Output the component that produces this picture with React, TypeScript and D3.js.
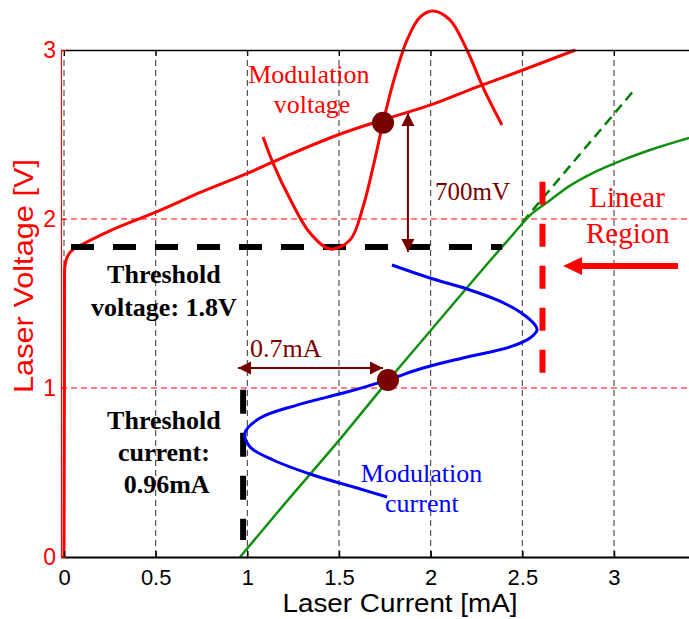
import React, { useEffect, useRef } from 'react';
import * as d3 from 'd3';

const W = 689, H = 619;

// V-I curve of the laser (current mA, voltage V)
const viCurve: [number, number][] = [
  [0, 0], [0.002, 1.0], [0.003, 1.7], [0.01, 1.75], [0.025, 1.79], [0.05, 1.82],
  [0.1, 1.85], [0.25, 1.93], [0.5, 2.04], [0.75, 2.16], [1, 2.27], [1.25, 2.39],
  [1.5, 2.5], [1.75, 2.59], [2, 2.675], [2.25, 2.78], [2.5, 2.88], [2.79, 3.0]
];
// L-I curve (green)
const liCurve: [number, number][] = [
  [0.96, 0], [1.2, 0.31], [1.5, 0.69], [1.75, 1.02], [2, 1.34], [2.25, 1.66],
  [2.45, 1.91], [2.55, 2.03], [2.65, 2.11], [2.75, 2.19], [2.9, 2.28],
  [3.05, 2.35], [3.2, 2.41], [3.41, 2.48]
];
const liLinearExt: [number, number][] = [[2.5, 1.98], [3.1, 2.75]];
// modulation voltage swing
const modVoltage: [number, number][] = [
  [1.086, 2.485], [1.14, 2.331], [1.233, 2.118], [1.342, 1.917], [1.451, 1.822],
  [1.56, 1.876], [1.631, 2.071], [1.686, 2.308], [1.74, 2.568], [1.795, 2.805],
  [1.871, 3.059], [1.942, 3.195], [2.013, 3.231], [2.105, 3.178], [2.198, 3.0],
  [2.285, 2.781], [2.389, 2.556]
];
// modulation current swing
const modCurrent: [number, number][] = [
  [1.789, 1.728], [1.996, 1.651], [2.198, 1.586], [2.362, 1.521], [2.487, 1.45],
  [2.569, 1.373], [2.58, 1.343], [2.542, 1.296], [2.433, 1.243], [2.176, 1.178],
  [1.958, 1.118], [1.762, 1.047], [1.544, 0.976], [1.271, 0.899], [1.069, 0.822],
  [0.987, 0.734], [1.015, 0.651], [1.14, 0.574], [1.358, 0.485], [1.598, 0.408],
  [1.762, 0.355]
];

const xTicks = [0, 0.5, 1, 1.5, 2, 2.5, 3];
const xTickLabels = ['0', '0.5', '1', '1.5', '2', '2.5', '3'];
const yTicks = [0, 1, 2, 3];
const yTickLabels = ['0', '1', '2', '3'];

const opPoints: [number, number][] = [[1.74, 2.57], [1.767, 1.047]];
const thresholdV: [number, number][] = [[0.038, 1.834], [2.39, 1.834]];
const thresholdI: [number, number][] = [[0.977, 0.99], [0.977, 0.1]];
const linearEdge: [number, number][] = [[2.61, 2.22], [2.61, 1.09]];
const swingV: [number, number][] = [[1.876, 1.805], [1.876, 2.627]];
const swingI: [number, number][] = [[1.74, 1.118], [0.949, 1.118]];
const linearArrow: [number, number][] = [[3.349, 1.722], [2.722, 1.722]];

const noteTexts = ['Modulation', 'voltage', '700mV', 'Threshold', 'voltage: 1.8V',
  'Threshold', 'current:', '0.96mA', '0.7mA', 'Modulation', 'current', 'Linear', 'Region'];
const noteAt: [number, number][] = [
  [1.336, 2.805], [1.353, 2.627], [2.024, 2.112], [0.545, 1.621], [0.545, 1.426],
  [0.545, 0.757], [0.545, 0.568], [0.56, 0.379], [1.015, 1.183], [1.95, 0.444],
  [1.952, 0.266], [3.071, 2.071], [3.076, 1.858]
];

function head(tip: number[], from: number[], len: number, half: number) {
  const dx = tip[0] - from[0], dy = tip[1] - from[1];
  const d = Math.hypot(dx, dy), ux = dx / d, uy = dy / d;
  const bx = tip[0] - ux * len, by = tip[1] - uy * len;
  return `M${tip[0]},${tip[1]}L${bx - uy * half},${by + ux * half}L${bx + uy * half},${by - ux * half}Z`;
}

const App = () => {
  const ref = useRef<SVGSVGElement>(null);

  useEffect(() => {
    const svg = d3.select(ref.current);
    svg.selectAll('*').remove();

    const x = d3.scaleLinear().domain([-0.0164, 3.4091]).range([61, 689]);
    const y = d3.scaleLinear().domain([0, 3]).range([557, 50]);
    const serif = 'Liberation Serif, Times New Roman, serif';
    const sans = 'Liberation Sans, Arial, Helvetica, sans-serif';
    const darkRed = '#7a0000';

    // grid
    svg.append('g').selectAll('line').data(xTicks).enter().append('line')
      .attr('x1', d => x(d)).attr('x2', d => x(d)).attr('y1', y(3)).attr('y2', y(0))
      .attr('stroke', '#333').attr('stroke-width', 1).attr('stroke-dasharray', '6,4');
    svg.append('g').selectAll('line').data([1, 2]).enter().append('line')
      .attr('x1', 61).attr('x2', 689).attr('y1', d => y(d)).attr('y2', d => y(d))
      .attr('stroke', '#ff0000').attr('stroke-width', 1).attr('stroke-dasharray', '6,4');

    const line = d3.line<[number, number]>().x(d => x(d[0])).y(d => y(d[1]));

    // green L-I
    svg.append('path').attr('d', line.curve(d3.curveLinear)(liLinearExt))
      .attr('fill', 'none').attr('stroke', '#008000').attr('stroke-width', 2.5)
      .attr('stroke-dasharray', '10,6');
    svg.append('path').attr('d', line.curve(d3.curveMonotoneX)(liCurve))
      .attr('fill', 'none').attr('stroke', '#109010').attr('stroke-width', 2.5);

    // red V-I
    svg.append('path').attr('d', line.curve(d3.curveMonotoneX)(viCurve))
      .attr('fill', 'none').attr('stroke', '#ff0000').attr('stroke-width', 3);

    // threshold lines
    svg.append('path').attr('d', line.curve(d3.curveLinear)(thresholdV))
      .attr('stroke', '#000').attr('stroke-width', 6).attr('stroke-dasharray', '23,19');
    svg.append('path').attr('d', line.curve(d3.curveLinear)(thresholdI))
      .attr('stroke', '#000').attr('stroke-width', 6).attr('stroke-dasharray', '24,19');
    svg.append('path').attr('d', line.curve(d3.curveLinear)(linearEdge))
      .attr('stroke', '#ff0000').attr('stroke-width', 6).attr('stroke-dasharray', '23,19');

    // modulation swings
    svg.append('path').attr('d', line.curve(d3.curveCatmullRom)(modVoltage))
      .attr('fill', 'none').attr('stroke', '#ff0000').attr('stroke-width', 3);
    svg.append('path').attr('d', line.curve(d3.curveCatmullRom)(modCurrent))
      .attr('fill', 'none').attr('stroke', '#0000ff').attr('stroke-width', 3);

    // double arrows
    [swingV, swingI].forEach(seg => {
      const a = [x(seg[0][0]), y(seg[0][1])], b = [x(seg[1][0]), y(seg[1][1])];
      svg.append('line').attr('x1', a[0]).attr('y1', a[1]).attr('x2', b[0]).attr('y2', b[1])
        .attr('stroke', darkRed).attr('stroke-width', 2);
      svg.append('path').attr('d', head(a, b, 13, 6.5)).attr('fill', darkRed);
      svg.append('path').attr('d', head(b, a, 13, 6.5)).attr('fill', darkRed);
    });

    // linear region arrow
    {
      const a = [x(linearArrow[0][0]), y(linearArrow[0][1])];
      const b = [x(linearArrow[1][0]), y(linearArrow[1][1])];
      svg.append('line').attr('x1', a[0]).attr('y1', a[1]).attr('x2', b[0] + 15).attr('y2', b[1])
        .attr('stroke', '#ff0000').attr('stroke-width', 6);
      svg.append('path').attr('d', head(b, a, 19, 9)).attr('fill', '#ff0000');
    }

    // operating points
    svg.append('g').selectAll('circle').data(opPoints).enter().append('circle')
      .attr('cx', d => x(d[0])).attr('cy', d => y(d[1])).attr('r', 11).attr('fill', darkRed);

    // annotation text
    const styles = [
      ['#ff0000', 26, 'normal', 'middle'], ['#ff0000', 26, 'normal', 'middle'],
      [darkRed, 25, 'normal', 'start'], ['#000', 26, 'bold', 'middle'], ['#000', 26, 'bold', 'middle'],
      ['#000', 26, 'bold', 'middle'], ['#000', 26, 'bold', 'middle'], ['#000', 26, 'bold', 'middle'],
      [darkRed, 26, 'normal', 'start'], ['#0000ff', 26, 'normal', 'middle'], ['#0000ff', 26, 'normal', 'middle'],
      ['#ff0000', 29, 'normal', 'middle'], ['#ff0000', 29, 'normal', 'middle']
    ];
    noteTexts.forEach((t, i) => {
      const s = styles[i];
      svg.append('text').attr('x', x(noteAt[i][0])).attr('y', y(noteAt[i][1]))
        .attr('fill', s[0] as string).attr('font-size', s[1] as number)
        .attr('font-weight', s[2] as string).attr('text-anchor', s[3] as string)
        .attr('font-family', serif).text(t);
    });

    // axes
    const xAxis = d3.axisBottom(x).tickValues(xTicks)
      .tickFormat((d, i) => xTickLabels[i]).tickSizeInner(-6).tickSizeOuter(0).tickPadding(12);
    const gx = svg.append('g').attr('transform', `translate(0,${y(0)})`).call(xAxis);
    gx.select('.domain').attr('stroke', '#000').attr('stroke-width', 2);
    gx.selectAll('.tick line').attr('stroke', '#000').attr('stroke-width', 1.5);
    gx.selectAll('text').attr('font-size', 22).attr('font-family', sans).attr('fill', '#000');

    const topAxis = d3.axisTop(x).tickValues(xTicks).tickFormat(() => '')
      .tickSizeInner(-6).tickSizeOuter(0);
    const gt = svg.append('g').attr('transform', `translate(0,${y(3)})`).call(topAxis);
    gt.select('.domain').attr('stroke', '#000').attr('stroke-width', 1.5);
    gt.selectAll('.tick line').attr('stroke', '#000');

    const yAxis = d3.axisLeft(y).tickValues(yTicks)
      .tickFormat((d, i) => yTickLabels[i]).tickSizeInner(-5).tickSizeOuter(0).tickPadding(5);
    const gy = svg.append('g').attr('transform', `translate(${x.range()[0]},0)`).call(yAxis);
    gy.select('.domain').attr('stroke', '#ff0000').attr('stroke-width', 1.2);
    gy.selectAll('.tick line').attr('stroke', '#ff0000');
    gy.selectAll('text').attr('font-size', 23).attr('font-family', sans).attr('fill', '#ff0000');

    svg.append('text').attr('x', 400).attr('y', 612).attr('text-anchor', 'middle')
      .attr('font-family', sans).attr('font-size', 25).attr('fill', '#000')
      .attr('textLength', 235).attr('lengthAdjust', 'spacingAndGlyphs')
      .text('Laser Current [mA]');
    svg.append('text').attr('transform', 'translate(33,276) rotate(-90)').attr('text-anchor', 'middle')
      .attr('font-family', sans).attr('font-size', 28).attr('fill', '#ff0000')
      .attr('textLength', 234).attr('lengthAdjust', 'spacingAndGlyphs')
      .text('Laser Voltage [V]');
  }, []);

  return (
    <svg ref={ref} width={W} height={H}
      style={{ position: 'absolute', left: 0, top: 0, background: '#fff' }} />
  );
};

export default App;
